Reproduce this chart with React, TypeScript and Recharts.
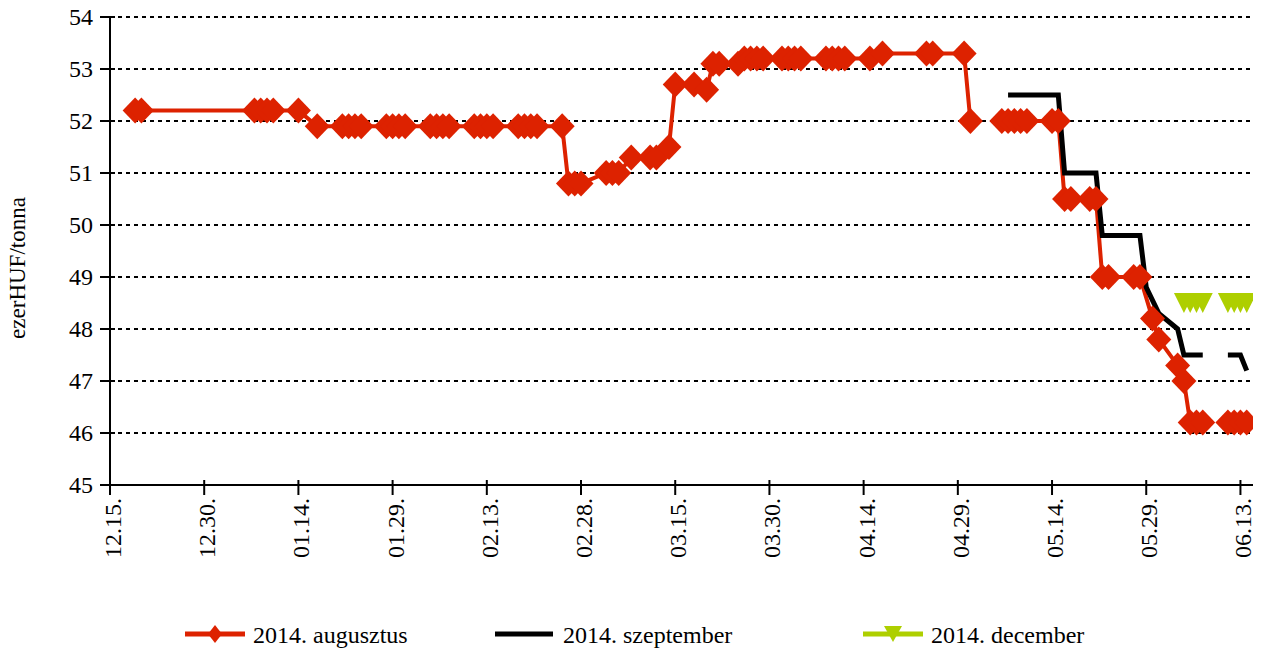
import { LineChart, Line, XAxis, YAxis, CartesianGrid } from 'recharts'

// day offsets counted from 2013.12.15.
const tickDays = [0, 15, 30, 45, 60, 75, 90, 105, 120, 135, 150, 165, 180]
const tickLabels = ['12.15.', '12.30.', '01.14.', '01.29.', '02.13.', '02.28.', '03.15.', '03.30.', '04.14.', '04.29.', '05.14.', '05.29.', '06.13.']
const yTicks = [45, 46, 47, 48, 49, 50, 51, 52, 53, 54]

const augDays = [
  4, 5, 23, 24, 25, 26, 30, 33, 37, 38, 39, 40, 44, 45, 46, 47, 51, 52, 53, 54,
  58, 59, 60, 61, 65, 66, 67, 68, 72, 73, 74, 75, 79, 80, 81, 83, 86, 87, 89, 90,
  93, 95, 96, 97, 100, 101, 102, 103, 104, 107, 108, 109, 110, 114, 115, 116, 117,
  121, 123, 130, 131, 136, 137, 139, 142, 143, 144, 145, 146, 150, 151, 152, 153,
  156, 157, 158, 159, 163, 164, 166, 167, 170, 171, 172, 173, 174, 176, 178, 179, 180, 181,
]
const augValues = [
  52.2, 52.2, 52.2, 52.2, 52.2, 52.2, 52.2, 51.9, 51.9, 51.9, 51.9, 51.9, 51.9, 51.9, 51.9, 51.9, 51.9, 51.9, 51.9, 51.9,
  51.9, 51.9, 51.9, 51.9, 51.9, 51.9, 51.9, 51.9, 51.9, 50.8, 50.8, 50.8, 51.0, 51.0, 51.0, 51.3, 51.3, 51.3, 51.5, 52.7,
  52.7, 52.6, 53.1, 53.1, 53.1, 53.2, 53.2, 53.2, 53.2, 53.2, 53.2, 53.2, 53.2, 53.2, 53.2, 53.2, 53.2,
  53.2, 53.3, 53.3, 53.3, 53.3, 52.0, null, 52.0, 52.0, 52.0, 52.0, 52.0, 52.0, 52.0, 50.5, 50.5,
  50.5, 50.5, 49.0, 49.0, 49.0, 49.0, 48.2, 47.8, 47.3, 47.0, 46.2, 46.2, 46.2, null, 46.2, 46.2, 46.2, 46.2,
]

const szepDays = [143, 144, 145, 146, 150, 151, 152, 153, 156, 157, 158, 159, 163, 164, 165, 167, 170, 171, 172, 173, 174, 176, 178, 179, 180, 181]
const szepValues = [52.5, 52.5, 52.5, 52.5, 52.5, 52.5, 51.0, 51.0, 51.0, 51.0, 49.8, 49.8, 49.8, 49.8, 48.8, 48.3, 48.0, 47.5, 47.5, 47.5, 47.5, null, 47.5, 47.5, 47.5, 47.2]

const decDays = [171, 172, 173, 174, 176, 178, 179, 180, 181]
const decValues = [48.5, 48.5, 48.5, 48.5, null, 48.5, 48.5, 48.5, 48.5]

const RED = '#DD2200'
const GREEN = '#AECF00'
const FONT = '"Liberation Serif", "Times New Roman", serif'

const toRows = (days: number[], values: (number | null)[]) =>
  days.map((d, i) => ({ d, v: values[i] }))

const augData = toRows(augDays, augValues)
const szepData = toRows(szepDays, szepValues)
const decData = toRows(decDays, decValues)

const Diamond = (props: any) => {
  const { cx, cy, index } = props
  if (cx == null || cy == null) return <g key={`a-${index}`} />
  return (
    <polygon
      key={`a-${index}`}
      points={`${cx},${cy - 13} ${cx + 12.5},${cy} ${cx},${cy + 13} ${cx - 12.5},${cy}`}
      fill={RED}
    />
  )
}

const TriangleDown = (props: any) => {
  const { cx, cy, index } = props
  if (cx == null || cy == null) return <g key={`d-${index}`} />
  return (
    <polygon
      key={`d-${index}`}
      points={`${cx - 10},${cy - 10} ${cx + 10},${cy - 10} ${cx},${cy + 10}`}
      fill={GREEN}
    />
  )
}

const XTick = ({ x, y, payload }: any) => {
  const i = tickDays.indexOf(payload.value)
  return (
    <g>
      <line x1={x} x2={x} y1={y - 5} y2={y + 10} stroke="#000" strokeWidth={2} />
      <text
        transform={`translate(${x + 11},${y + 13}) rotate(-90)`}
        textAnchor="end"
        fontSize={24}
        fontFamily={FONT}
        fill="#000"
      >
        {tickLabels[i]}
      </text>
    </g>
  )
}

const YTick = ({ x, y, payload }: any) => (
  <g>
    <line x1={x - 10} x2={x + 5} y1={y} y2={y} stroke="#000" strokeWidth={2} />
    <text x={x - 17} y={y} dy="0.35em" textAnchor="end" fontSize={24} fontFamily={FONT} fill="#000">
      {payload.value}
    </text>
  </g>
)

export default function App() {
  return (
    <div style={{ position: 'absolute', left: 0, top: 0, width: 1263, height: 650, background: '#fff' }}>
      <LineChart width={1263} height={650} margin={{ top: 17, right: 10, bottom: 0, left: 0 }}>
        <CartesianGrid vertical={false} stroke="#000" strokeDasharray="4 4" strokeWidth={2} />
        <XAxis
          dataKey="d"
          type="number"
          domain={[0, 182]}
          ticks={tickDays}
          height={165}
          tickSize={0}
          tickMargin={0}
          tickLine={false}
          tick={<XTick />}
          axisLine={{ stroke: '#000', strokeWidth: 2 }}
          allowDataOverflow
        />
        <YAxis
          type="number"
          domain={[45, 54]}
          ticks={yTicks}
          width={110}
          tickSize={0}
          tickMargin={0}
          tickLine={false}
          tick={<YTick />}
          axisLine={{ stroke: '#000', strokeWidth: 2 }}
        />
        <Line
          data={augData}
          dataKey="v"
          type="linear"
          stroke={RED}
          strokeWidth={4}
          dot={Diamond}
          connectNulls={false}
          isAnimationActive={false}
        />
        <Line
          data={szepData}
          dataKey="v"
          type="linear"
          stroke="#000"
          strokeWidth={5}
          dot={false}
          connectNulls={false}
          isAnimationActive={false}
        />
        <Line
          data={decData}
          dataKey="v"
          type="linear"
          stroke={GREEN}
          strokeWidth={5}
          dot={TriangleDown}
          connectNulls={false}
          isAnimationActive={false}
        />
      </LineChart>
      <svg
        width={1263}
        height={650}
        style={{ position: 'absolute', left: 0, top: 0, pointerEvents: 'none' }}
        fontFamily={FONT}
        fontSize={24}
      >
        <text transform="translate(25,268) rotate(-90)" textAnchor="middle" fill="#000" fontSize={23}>
          ezerHUF/tonna
        </text>
        <line x1={185} x2={245} y1={634} y2={634} stroke={RED} strokeWidth={5} />
        <polygon points="215,625 222,634 215,643 208,634" fill={RED} />
        <text x={253} y={643} fill="#000">2014. augusztus</text>
        <line x1={495} x2={553} y1={634} y2={634} stroke="#000" strokeWidth={5} />
        <text x={563} y={643} fill="#000">2014. szeptember</text>
        <line x1={863} x2={923} y1={634} y2={634} stroke={GREEN} strokeWidth={5} />
        <polygon points="884,626 902,626 893,642" fill={GREEN} />
        <text x={931} y={643} fill="#000">2014. december</text>
      </svg>
    </div>
  )
}
